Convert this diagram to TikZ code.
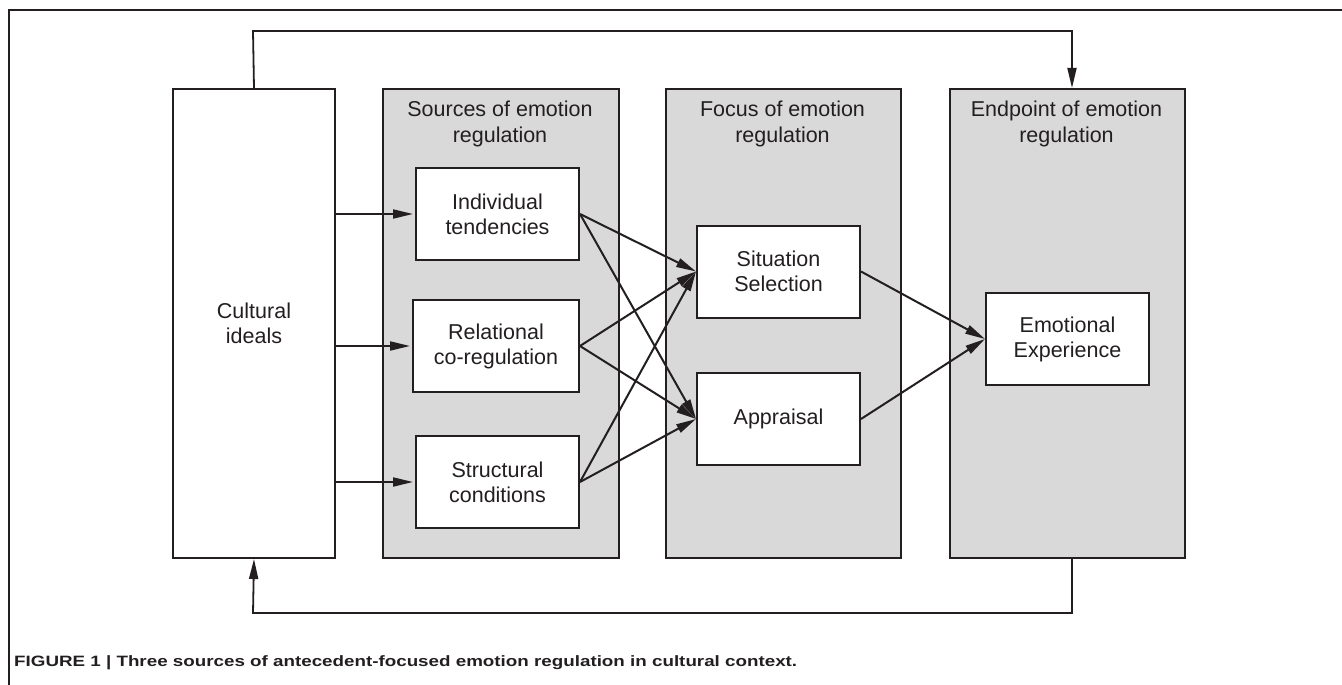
\documentclass[tikz,border=0pt]{standalone}
\usepackage{graphicx}
\usepackage{fontspec}
\setmainfont{Liberation Sans}
\usetikzlibrary{arrows.meta}
\definecolor{ink}{HTML}{231F20}
\definecolor{panelgray}{HTML}{D9D9D9}
\begin{document}
\begin{tikzpicture}[x=1pt,y=-1pt,
  font=\fontsize{21.5}{25}\selectfont,
  panel/.style={draw=ink, fill=panelgray, line width=2pt, inner sep=0pt, anchor=north west, minimum height=469pt},
  box/.style={draw=ink, fill=white, line width=2pt, inner sep=0pt, align=center, minimum width=163pt, minimum height=92pt, text=ink},
  ptitle/.style={anchor=base, inner sep=0pt, text=ink},
  arr/.style={draw=ink, line width=2pt, -{Triangle[length=20pt,width=9pt]}},
  fb/.style={draw=ink, line width=1.8pt},
  fbarr/.style={fb, -{Triangle[length=20pt,width=9pt]}}]
\fill[white] (0,0) rectangle (1342,685);
\useasboundingbox (0,0) rectangle (1342,685);
% frame
\coordinate (fA) at (9,686);
\coordinate (fB) at (9,10);
\coordinate (fC) at (1343,10);
\draw[ink, line width=2.4pt] (fA) -- (fB) -- (fC);
% panels
\node[panel, fill=white, minimum width=162pt, align=center, text=ink] (cult) at (172,88) {Cultural\\ideals};
\node[panel, minimum width=236pt] (src) at (382,88) {};
\node[panel, minimum width=235pt] (foc) at (665,88) {};
\node[panel, minimum width=235pt] (endp) at (949,88) {};
\node[ptitle] (srcT) at (500,117) {\begin{tabular}[t]{@{}c@{}}Sources of emotion\\regulation\end{tabular}};
\node[ptitle] (focT) at (782.5,117) {\begin{tabular}[t]{@{}c@{}}Focus of emotion\\regulation\end{tabular}};
\node[ptitle] (endT) at (1066.5,117) {\begin{tabular}[t]{@{}c@{}}Endpoint of emotion\\regulation\end{tabular}};
% boxes
\node[box] (ind) at (497.5,214) {Individual\\tendencies};
\node[box, minimum width=166pt] (rel) at (496,346) {Relational\\co-regulation};
\node[box] (str) at (497.5,482) {Structural\\conditions};
\node[box] (sit) at (778.5,271.5) {Situation\\Selection};
\node[box] (app) at (778.5,419) {Appraisal};
\node[box] (emo) at (1067.5,339) {Emotional\\Experience};
% arrows from cultural ideals
\draw[arr, shorten >=2pt] (cult.east |- ind) -- (ind.west);
\draw[arr, shorten >=2pt] (cult.east |- rel) -- (rel.west);
\draw[arr, shorten >=2pt] (cult.east |- str) -- (str.west);
% sources to focus
\draw[arr] (ind.east) -- (sit.west);
\draw[arr] (ind.east) -- (app.west);
\draw[arr] (rel.east) -- (sit.west);
\draw[arr] (rel.east) -- (app.west);
\draw[arr] (str.east) -- (sit.west);
\draw[arr] (str.east) -- (app.west);
% focus to endpoint
\draw[arr] (sit.east) -- (emo.west);
\draw[arr] (app.east) -- (emo.west);
% feedback loops
\coordinate (topL) at (253,31);
\coordinate (topR) at (1072,31);
\coordinate (botR) at (1072,613);
\coordinate (botL) at (253,613);
\draw[fbarr] (cult.north) -- (topL) -- (topR) -- (topR |- endp.north);
\draw[fbarr] (botR |- endp.south) -- (botR) -- (botL) -- (cult.south);
% caption
\node[anchor=base west, inner sep=0pt, text=ink] (cap) at (14,666) {\resizebox{783pt}{\height}{\fontsize{15}{17}\selectfont\bfseries FIGURE 1 | Three sources of antecedent-focused emotion regulation in cultural context.}};
\end{tikzpicture}
\end{document}
